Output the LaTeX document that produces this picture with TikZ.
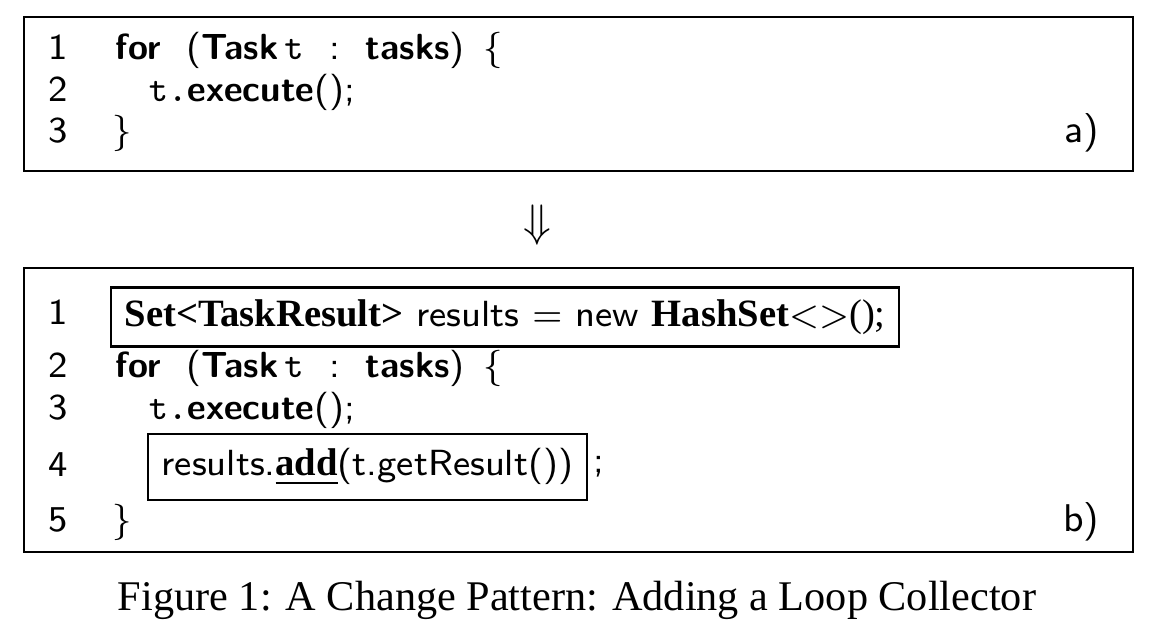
\documentclass[tikz,border=0pt]{standalone}
\usepackage{fontspec}
\usepackage{tikz}
\usetikzlibrary{positioning}
\newfontfamily\timesfont{Liberation Serif}
\newcommand{\codefont}{\sffamily\fontsize{8}{10}\selectfont}
\newcommand{\kw}[1]{\textbf{#1}}
\newcommand{\tvar}{\texttt{t}}
\newcommand{\jtype}[1]{{\timesfont\bfseries\fontsize{8.5}{10}\selectfont #1}}
\begin{document}
\begin{tikzpicture}[
    x=0.22pt, y=-0.22pt,
    frame/.style={draw=black, line width=0.5pt},
    lineno/.style={anchor=mid, inner sep=0pt, font=\codefont},
    codeline/.style={anchor=mid west, inner sep=0pt, font=\codefont},
    hilite/.style={draw=black, line width=0.5pt, anchor=west, inner xsep=3pt, inner ysep=0pt, minimum height=13pt, font=\codefont},
    tag/.style={anchor=mid east, inner sep=0pt, font=\sffamily\fontsize{8.5}{10}\selectfont}
]
    \useasboundingbox (0,0) rectangle (1160,632);

    % a) original loop
    \draw[frame] (24,17) rectangle (1133,171);
    \node[lineno] (a1) at (58,50) {1};
    \node[lineno] (a2) at (58,92) {2};
    \node[lineno] (a3) at (58,133) {3};
    \node[codeline] (afor) at (115,50) {\kw{for}\ \ (\kw{Task}\,\tvar\ \ :\ \ \kw{tasks})\ \,$\{$};
    \node[codeline] (aexec) at (148,92) {\texttt{t.}\kw{execute}();};
    \node[codeline] (aclose) at (112,133) {$\}$};
    \node[tag] (atag) at (1100,133) {a)};

    % arrow between the two versions
    \node[font=\fontsize{10}{12}\selectfont] (down) at (537,225) {$\Downarrow$};

    % b) loop with collector
    \draw[frame] (24,268) rectangle (1133,552);
    \node[lineno] (b1) at (58,315) {1};
    \node[lineno] (b2) at (58,368) {2};
    \node[lineno] (b3) at (58,410) {3};
    \node[lineno] (b4) at (58,467) {4};
    \node[lineno] (b5) at (58,522) {5};
    \node[hilite] (decl) at (110,317) {\jtype{Set<TaskResult>} results $=$ new \jtype{HashSet}${<}{>}${\timesfont\fontsize{8.5}{10}\selectfont();}};
    \node[codeline] (bfor) at (115,368) {\kw{for}\ \ (\kw{Task}\,\tvar\ \ :\ \ \kw{tasks})\ \,$\{$};
    \node[codeline] (bexec) at (148,410) {\texttt{t.}\kw{execute}();};
    \node[hilite, minimum height=14.5pt] (collect) at (147,467) {results.\underline{\jtype{add}}(t.getResult())};
    \node[codeline, right=1pt of collect] (semi) {;};
    \node[codeline] (bclose) at (112,522) {$\}$};
    \node[tag] (btag) at (1100,522) {b)};

    % caption
    \node[font=\timesfont\fontsize{9.3}{11}\selectfont] (caption) at (577,600) {Figure 1: A Change Pattern: Adding a Loop Collector};
\end{tikzpicture}
\end{document}
